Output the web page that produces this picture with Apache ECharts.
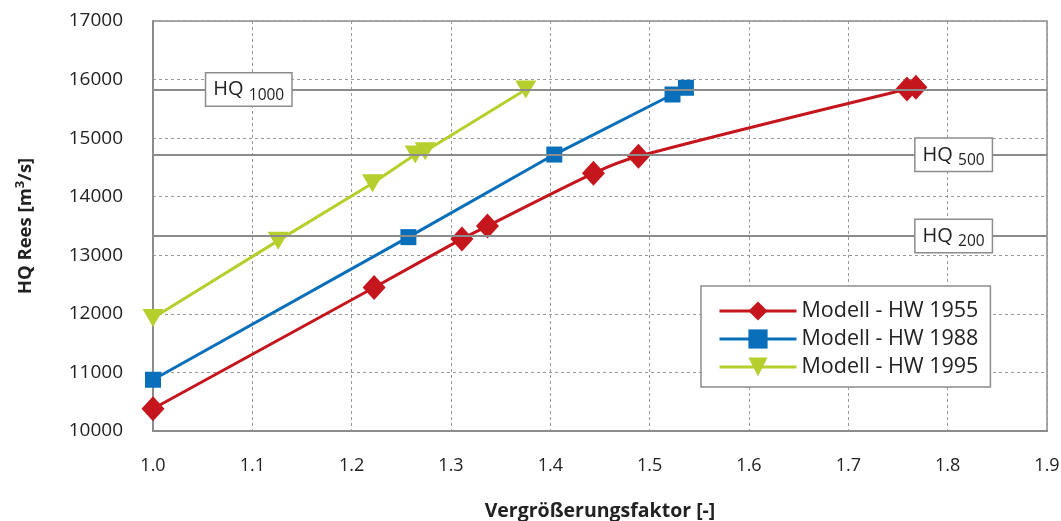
<!DOCTYPE html>
<html>
<head>
<meta charset="utf-8">
<script src="https://cdn.jsdelivr.net/npm/echarts@6/dist/echarts.min.js"></script>
<style>html,body{margin:0;padding:0;background:#fff}#c{width:1061px;height:521px}</style>
</head>
<body>
<div id="c"></div>
<script>
// ---- data ----
var seriesNames = ['Modell - HW 1955', 'Modell - HW 1988', 'Modell - HW 1995'];
var x1955 = [1.0, 1.2226, 1.311, 1.3367, 1.4434, 1.4887, 1.759, 1.768];
var y1955 = [10380, 12450, 13280, 13500, 14400, 14690, 15840, 15870];
var x1988 = [1.0, 1.2571, 1.404, 1.523, 1.5365];
var y1988 = [10875, 13310, 14720, 15745, 15860];
var x1995 = [1.0, 1.126, 1.221, 1.264, 1.274, 1.3753];
var y1995 = [11930, 13250, 14230, 14720, 14775, 15830];
var hqNames = ['1000', '500', '200'];
var hqLevels = [15830, 14715, 13330];
var hqLabelX = [1.0964, 1.806, 1.806];
var xTicks = [1.0, 1.1, 1.2, 1.3, 1.4, 1.5, 1.6, 1.7, 1.8, 1.9];
var yTicks = [10000, 11000, 12000, 13000, 14000, 15000, 16000, 17000];

function pairs(xs, ys) { return xs.map(function (x, i) { return [x, ys[i]]; }); }

var FONT = 'Open Sans';
var GRAY = '#8c8c8c';
var colors = ['#c4161c', '#0a6fba', '#b6cf2c'];

var chart = echarts.init(document.getElementById('c'), null, {renderer: 'canvas'});
chart.setOption({
  animation: false,
  textStyle: {fontFamily: FONT},
  grid: {left: 153, right: 14, top: 21, bottom: 90, show: true, borderColor: GRAY, borderWidth: 1.5,
    containLabel: false, outerBoundsMode: 'none'},
  legend: {
    data: seriesNames,
    orient: 'vertical',
    left: 701, top: 286,
    padding: [14, 12, 9, 17],
    itemWidth: 77, itemHeight: 24, itemGap: 6, itemTextGap: 24,
    borderColor: GRAY, borderWidth: 1.5, backgroundColor: '#fff',
    lineStyle: {width: 3},
    textStyle: {fontFamily: FONT, fontSize: 21.5, color: '#222'}
  },
  xAxis: {
    type: 'value', min: xTicks[0], max: xTicks[xTicks.length - 1], interval: 0.1,
    name: 'Vergrößerungsfaktor [-]', nameLocation: 'middle', nameGap: 70,
    nameTextStyle: {fontFamily: FONT, fontSize: 19.5, fontWeight: 'bold', color: '#222'},
    axisLine: {show: true, lineStyle: {color: GRAY, width: 2}},
    axisTick: {show: false},
    axisLabel: {margin: 26, fontSize: 18, color: '#222', fontFamily: FONT,
      formatter: function (v) { return v.toFixed(1); }},
    splitLine: {show: true, lineStyle: {color: '#9a9a9a', type: [3, 3], width: 1}}
  },
  yAxis: {
    type: 'value', min: yTicks[0], max: yTicks[yTicks.length - 1], interval: 1000,
    name: '{n|HQ Rees [m}{s|3}{n|/s]}', nameLocation: 'middle', nameGap: 116,
    nameTextStyle: {rich: {
      n: {fontFamily: FONT, fontSize: 18.5, fontWeight: 'bold', color: '#222'},
      s: {fontFamily: FONT, fontSize: 13, fontWeight: 'bold', color: '#222', padding: [0, 0, 10, 0]}
    }},
    axisLine: {show: true, lineStyle: {color: GRAY, width: 2}},
    axisTick: {show: false},
    axisLabel: {margin: 30, fontSize: 19, color: '#222', fontFamily: FONT,
      formatter: function (v) { return String(v); }},
    splitLine: {show: true, lineStyle: {color: '#9a9a9a', type: [3, 3], width: 1}}
  },
  series: [
    {
      name: 'HQ', type: 'line', data: [], z: 1, silent: true,
      markLine: {
        silent: true, symbol: 'none', animation: false,
        label: {show: false},
        lineStyle: {color: GRAY, width: 2, type: 'solid'},
        data: hqLevels.map(function (v) { return {yAxis: v}; })
      },
      markPoint: {
        silent: true, symbol: 'rect', symbolSize: 0,
        label: {
          show: true, position: 'inside',
          backgroundColor: '#fff', borderColor: GRAY, borderWidth: 1.5,
          padding: [2, 7, 2, 7],
          rich: {
            a: {fontFamily: FONT, fontSize: 20, color: '#222', lineHeight: 28, verticalAlign: 'middle'},
            b: {fontFamily: FONT, fontSize: 15.5, color: '#222', lineHeight: 28, padding: [12, 0, 0, 0]}
          }
        },
        data: hqLevels.map(function (v, i) {
          return {coord: [hqLabelX[i], v], value: hqNames[i],
            label: {formatter: '{a|HQ }{b|' + hqNames[i] + '}'}};
        })
      }
    },
    {
      name: seriesNames[0], type: 'line', z: 3, smooth: 0.3,
      data: pairs(x1955, y1955),
      symbol: 'diamond', symbolSize: [23, 25],
      lineStyle: {color: colors[0], width: 3},
      itemStyle: {color: colors[0]}
    },
    {
      name: seriesNames[1], type: 'line', z: 3,
      data: pairs(x1988, y1988),
      symbol: 'rect', symbolSize: 16,
      lineStyle: {color: colors[1], width: 3},
      itemStyle: {color: colors[1]}
    },
    {
      name: seriesNames[2], type: 'line', z: 3,
      data: pairs(x1995, y1995),
      symbol: 'triangle', symbolRotate: 180, symbolSize: [21, 18],
      lineStyle: {color: colors[2], width: 3},
      itemStyle: {color: colors[2]}
    }
  ]
});
</script>
</body>
</html>
